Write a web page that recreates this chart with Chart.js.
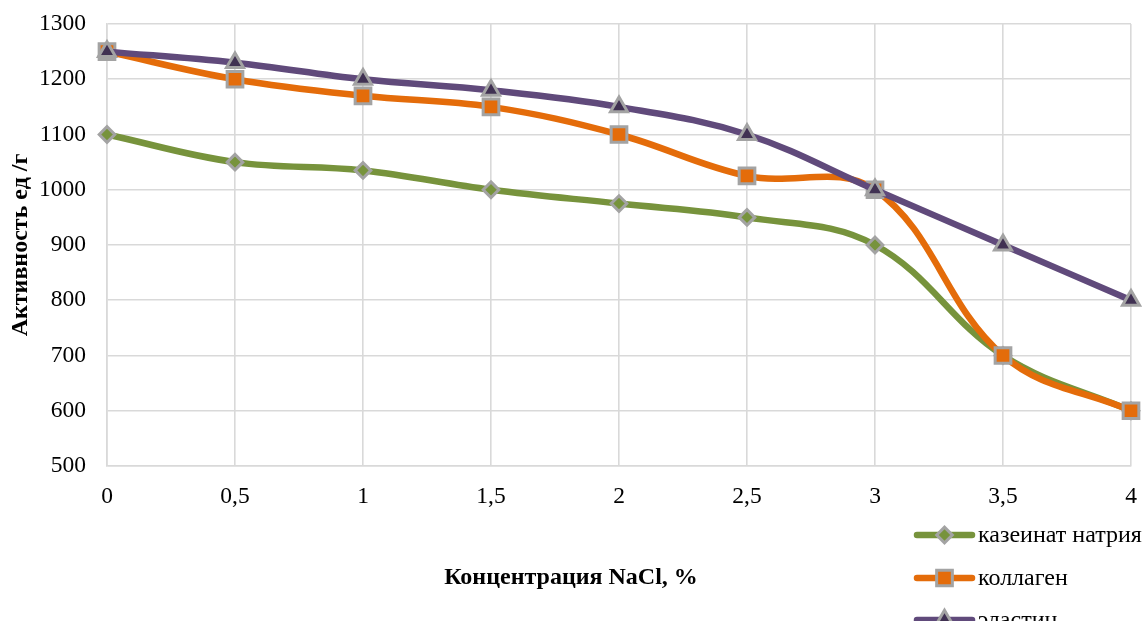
<!DOCTYPE html>
<html>
<head>
<meta charset="utf-8">
<script src="https://cdn.jsdelivr.net/npm/chart.js@4/dist/chart.umd.min.js"></script>
<style>
  html, body { margin: 0; padding: 0; background: #fff; }
  #wrap { width: 1142px; height: 621px; position: relative; }
</style>
</head>
<body>
<div id="wrap"><canvas id="c" width="1142" height="621"></canvas></div>
<script>
// NaCl concentration, %
const concentrationLabels = ['0', '0,5', '1', '1,5', '2', '2,5', '3', '3,5', '4'];
// Activity, units per gram
const caseinate = [1100, 1050, 1035, 1000, 975, 950, 900, 700, 600];
const collagen  = [1250, 1200, 1170, 1150, 1100, 1025, 1000, 700, 600];
const elastin   = [1250, 1230, 1200, 1180, 1150, 1100, 1000, 900, 800];
const seriesNames = ['казеинат натрия', 'коллаген', 'эластин'];
const yTicks = { min: 500, max: 1300, step: 100 };
const xTitle = 'Концентрация NaCl, %';
const yTitle = 'Активность ед /г';

const FONT = "'Liberation Serif', 'Times New Roman', serif";
const GRID = '#d9d9d9';
const MARKER_EDGE = '#a3a3a3';

function series(label, data, color, markerFill, style, radius, order) {
  return {
    label, data, order,
    borderColor: color,
    borderWidth: 6.5,
    borderCapStyle: 'round',
    borderJoinStyle: 'round',
    tension: 0.38,
    pointStyle: style,
    pointRadius: radius,
    pointHoverRadius: radius,
    pointBackgroundColor: markerFill,
    pointBorderColor: MARKER_EDGE,
    pointBorderWidth: 3,
    clip: false
  };
}

const datasets = [
  series(seriesNames[0], caseinate, '#77933c', '#77933c', 'rectRot', 7.8, 2),
  series(seriesNames[1], collagen, '#e46c0a', '#e46c0a', 'rect', 11.1, 1),
  series(seriesNames[2], elastin, '#604a7b', '#403152', 'triangle', 9.8, 0)
];

// Axis title under the plot and the vertical legend in the lower right corner
const extraText = {
  id: 'extraText',
  afterDraw(chart) {
    const ctx = chart.ctx;
    ctx.save();
    ctx.fillStyle = '#000';
    ctx.font = 'bold 24px ' + FONT;
    ctx.textAlign = 'center';
    ctx.textBaseline = 'middle';
    ctx.fillText(xTitle, 571, 578);

    const rows = [535, 578, 620];
    const x0 = 917, x1 = 972, xm = (x0 + x1) / 2;
    datasets.forEach((ds, i) => {
      const y = rows[i];
      ctx.beginPath();
      ctx.strokeStyle = ds.borderColor;
      ctx.lineWidth = ds.borderWidth;
      ctx.lineCap = 'round';
      ctx.moveTo(x0, y);
      ctx.lineTo(x1, y);
      ctx.stroke();
      ctx.fillStyle = ds.pointBackgroundColor;
      ctx.strokeStyle = ds.pointBorderColor;
      ctx.lineWidth = ds.pointBorderWidth;
      Chart.helpers.drawPoint(ctx, { pointStyle: ds.pointStyle, radius: ds.pointRadius, borderWidth: ds.pointBorderWidth, rotation: 0 }, xm, y);
      ctx.fillStyle = '#000';
      ctx.font = '24px ' + FONT;
      ctx.textAlign = 'left';
      ctx.textBaseline = 'middle';
      ctx.fillText(ds.label, 978, y + 1);
    });
    ctx.restore();
  }
};

new Chart(document.getElementById('c'), {
  type: 'line',
  data: { labels: concentrationLabels, datasets },
  options: {
    responsive: false,
    animation: false,
    events: [],
    layout: { autoPadding: false, padding: { left: 0, top: 24, right: 11, bottom: 0 } },
    plugins: { legend: { display: false }, tooltip: { enabled: false } },
    scales: {
      x: {
        type: 'category',
        offset: false,
        afterFit(scale) {
          scale.height = 155;
          scale.paddingLeft = 0;
          scale.paddingRight = 0;
        },
        grid: { color: GRID, lineWidth: 1.6, drawTicks: false },
        border: { color: GRID, width: 1.6 },
        ticks: { color: '#000', font: { family: FONT, size: 23.5 }, padding: 17, maxRotation: 0, autoSkip: false }
      },
      y: {
        min: yTicks.min,
        max: yTicks.max,
        afterFit(scale) {
          scale.width = 107;
          scale.paddingTop = 0;
          scale.paddingBottom = 0;
        },
        grid: { color: GRID, lineWidth: 1.6, drawTicks: false },
        border: { color: GRID, width: 1.6 },
        ticks: {
          stepSize: yTicks.step,
          color: '#000',
          font: { family: FONT, size: 23.5 },
          padding: 21,
          callback: v => String(v)
        },
        title: {
          display: true,
          text: yTitle,
          color: '#000',
          font: { family: FONT, size: 24, weight: 'bold' },
          padding: { top: 6, bottom: 0 }
        }
      }
    }
  },
  plugins: [extraText]
});
</script>
</body>
</html>
